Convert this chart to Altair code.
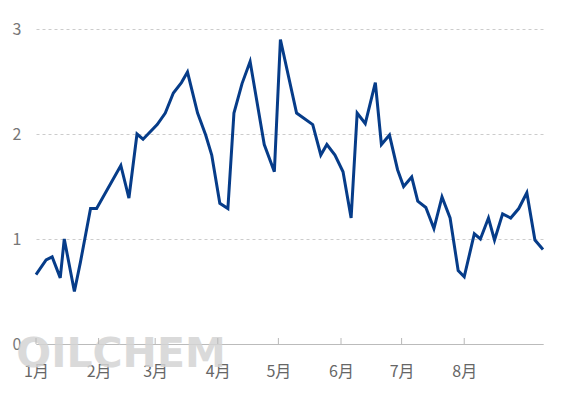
import altair as alt
import pandas as pd

dates = [
    "2023-01-01", "2023-01-06", "2023-01-09", "2023-01-13", "2023-01-15", "2023-01-20",
    "2023-01-23", "2023-01-28", "2023-01-31", "2023-02-12", "2023-02-16", "2023-02-20",
    "2023-02-23", "2023-03-02", "2023-03-06", "2023-03-10", "2023-03-14", "2023-03-17",
    "2023-03-22", "2023-03-26", "2023-03-29", "2023-04-02", "2023-04-06", "2023-04-09",
    "2023-04-13", "2023-04-17", "2023-04-24", "2023-04-29", "2023-05-02", "2023-05-10",
    "2023-05-18", "2023-05-22", "2023-05-25", "2023-05-29", "2023-06-02", "2023-06-06",
    "2023-06-09", "2023-06-13", "2023-06-18", "2023-06-21", "2023-06-25", "2023-06-29",
    "2023-07-02", "2023-07-06", "2023-07-09", "2023-07-13", "2023-07-17", "2023-07-21",
    "2023-07-25", "2023-07-29", "2023-08-01", "2023-08-06", "2023-08-09", "2023-08-13",
    "2023-08-16", "2023-08-20", "2023-08-24", "2023-08-28", "2023-09-01", "2023-09-05",
    "2023-09-09",
]
values = [
    0.66, 0.80, 0.83, 0.63, 1.00, 0.50, 0.78, 1.29, 1.29, 1.70, 1.39, 2.00, 1.95,
    2.09, 2.20, 2.39, 2.49, 2.59, 2.20, 1.99, 1.80, 1.34, 1.29, 2.20, 2.48, 2.69,
    1.90, 1.64, 2.90, 2.20, 2.09, 1.80, 1.90, 1.80, 1.64, 1.20, 2.20, 2.10, 2.49,
    1.90, 1.99, 1.66, 1.50, 1.59, 1.36, 1.30, 1.10, 1.40, 1.20, 0.70, 0.64, 1.05,
    1.00, 1.20, 0.99, 1.24, 1.20, 1.29, 1.44, 0.99, 0.90,
]
month_ticks = [
    "2023-01-01", "2023-02-01", "2023-03-01", "2023-04-01",
    "2023-05-01", "2023-06-01", "2023-07-01", "2023-08-01",
]
y_ticks = [0, 1, 2, 3]
watermark = "OILCHEM"

df = pd.DataFrame({"date": pd.to_datetime(dates), "value": values})
ticks_df = pd.DataFrame({"date": pd.to_datetime(month_ticks)})

font = "Noto Sans CJK SC"
x_scale = alt.Scale(domain=[dates[0], dates[-1]], nice=False)
y_scale = alt.Scale(domain=[0, 3], nice=False)

x_axis = alt.Axis(
    title=None,
    values=month_ticks,
    format="%-m月",
    formatType="time",
    labelFont=font,
    labelFontSize=16,
    labelColor="#666666",
    labelPadding=19,
    labelAlign="center",
    tickSize=0,
    domainColor="#bbbbbb",
    domainWidth=1,
    grid=False,
)

line = alt.Chart(df).mark_line(color="#063c89", strokeWidth=3).encode(
    x=alt.X("date:T", scale=x_scale, axis=x_axis),
    y=alt.Y(
        "value:Q",
        scale=y_scale,
        axis=alt.Axis(
            title=None,
            values=y_ticks,
            labelFont=font,
            labelFontSize=16,
            labelColor="#777777",
            labelPadding=15,
            domain=False,
            ticks=False,
            grid=True,
            gridColor="#cccccc",
            gridDash=[3, 3],
            gridWidth=1,
        ),
    ),
)

tick_marks = alt.Chart(ticks_df).mark_rule(color="#b8b8b8", strokeWidth=1).encode(
    x=alt.X("date:T", scale=x_scale, axis=x_axis),
    y=alt.value(309),
    y2=alt.value(315),
)

wm = alt.Chart(pd.DataFrame({"t": [watermark]})).mark_text(
    font="DejaVu Sans",
    fontSize=41,
    fontWeight="bold",
    color="#d4d4d4",
    opacity=0.85,
    align="center",
    baseline="alphabetic",
).encode(
    text="t:N",
    x=alt.value(85),
    y=alt.value(338),
)

chart = alt.layer(wm, tick_marks, line).properties(
    width=507,
    height=315,
    background="white",
    autosize=alt.AutoSizeParams(type="none"),
    padding={"left": 36, "top": 29, "right": 23, "bottom": 55},
).configure_view(stroke=None)

chart.save("out.html", embed_options={"renderer": "svg", "actions": False})
